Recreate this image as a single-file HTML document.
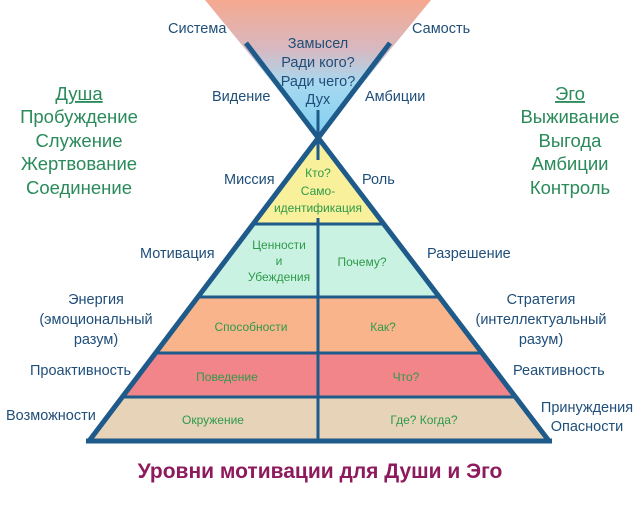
<!DOCTYPE html>
<html><head><meta charset="utf-8"><style>
html,body{margin:0;padding:0;background:#fff;}
svg{display:block;font-family:"Liberation Sans","DejaVu Sans",sans-serif;}
.l{fill:#1f4e79;font-size:14.5px;}
.g{fill:#2e9a4a;font-size:12px;}
.s{fill:#2a8a5a;font-size:18.5px;}
</style></head><body>
<svg width="640" height="517" viewBox="0 0 640 517" xmlns="http://www.w3.org/2000/svg">
<defs>
<linearGradient id="fun" x1="0" y1="0" x2="0" y2="1">
<stop offset="0" stop-color="#f6a98f"/>
<stop offset="0.35" stop-color="#d8b8c0"/>
<stop offset="0.6" stop-color="#a8d8f0"/>
<stop offset="1" stop-color="#7fd0f2"/>
</linearGradient>
</defs>
<rect width="640" height="517" fill="#fff"/>
<polygon points="205,0 431,0 318,138" fill="url(#fun)"/>
<polygon points="318,138 384,224 253,224" fill="#f8f09a"/>
<polygon points="253,224 384,224 439,297 198,297" fill="#c9f2e2"/>
<polygon points="198,297 439,297 482,353 155,353" fill="#f9b48c"/>
<polygon points="155,353 482,353 516,397 122,397" fill="#f2858a"/>
<polygon points="122,397 516,397 549,441 89,441" fill="#e6d3b8"/>
<g stroke="#1e5a8a" stroke-width="5" fill="none">
<line x1="246" y1="43" x2="549" y2="441"/>
<line x1="390" y1="43" x2="89" y2="441"/>
<line x1="86" y1="441" x2="552" y2="441"/>
<line x1="253" y1="224" x2="384" y2="224" stroke-width="3"/>
<line x1="198" y1="297" x2="439" y2="297" stroke-width="3"/>
<line x1="155" y1="353" x2="482" y2="353" stroke-width="3"/>
<line x1="122" y1="397" x2="516" y2="397" stroke-width="3"/>
<line x1="318" y1="110" x2="318" y2="160" stroke-width="3"/>
<line x1="318" y1="218" x2="318" y2="441" stroke-width="3"/>
</g>
<g class="l" text-anchor="middle">
<text x="318" y="48">Замысел</text>
<text x="318" y="67">Ради кого?</text>
<text x="318" y="86">Ради чего?</text>
<text x="318" y="104">Дух</text>
</g>
<g class="l">
<text x="168" y="33">Система</text>
<text x="412" y="33">Самость</text>
<text x="212" y="101">Видение</text>
<text x="365" y="101">Амбиции</text>
<text x="224" y="184">Миссия</text>
<text x="362" y="184">Роль</text>
<text x="140" y="258">Мотивация</text>
<text x="427" y="258">Разрешение</text>
<text x="30" y="375">Проактивность</text>
<text x="513" y="375">Реактивность</text>
<text x="6" y="420">Возможности</text>
</g>
<g class="l" text-anchor="middle">
<text x="96" y="304">Энергия</text>
<text x="96" y="324">(эмоциональный</text>
<text x="96" y="344">разум)</text>
<text x="541" y="304">Стратегия</text>
<text x="541" y="324">(интеллектуальный</text>
<text x="541" y="344">разум)</text>
<text x="587" y="412">Принуждения</text>
<text x="587" y="431">Опасности</text>
</g>
<g class="g" text-anchor="middle">
<text x="318" y="177">Кто?</text>
<text x="318" y="195">Само-</text>
<text x="318" y="212">идентификация</text>
<text x="279" y="249">Ценности</text>
<text x="279" y="265">и</text>
<text x="279" y="281">Убеждения</text>
<text x="362" y="266">Почему?</text>
<text x="251" y="331">Способности</text>
<text x="383" y="331">Как?</text>
<text x="227" y="381">Поведение</text>
<text x="406" y="381">Что?</text>
<text x="213" y="424">Окружение</text>
<text x="424" y="424">Где? Когда?</text>
</g>
<g class="s" text-anchor="middle">
<text x="79" y="100" text-decoration="underline">Душа</text>
<text x="79" y="123">Пробуждение</text>
<text x="79" y="147">Служение</text>
<text x="79" y="170">Жертвование</text>
<text x="79" y="194">Соединение</text>
<text x="570" y="100" text-decoration="underline">Эго</text>
<text x="570" y="123">Выживание</text>
<text x="570" y="147">Выгода</text>
<text x="570" y="170">Амбиции</text>
<text x="570" y="194">Контроль</text>
</g>
<text x="320" y="478" text-anchor="middle" font-size="21" font-weight="bold" fill="#8e1a5e">Уровни мотивации для Души и Эго</text>
</svg>
</body></html>
